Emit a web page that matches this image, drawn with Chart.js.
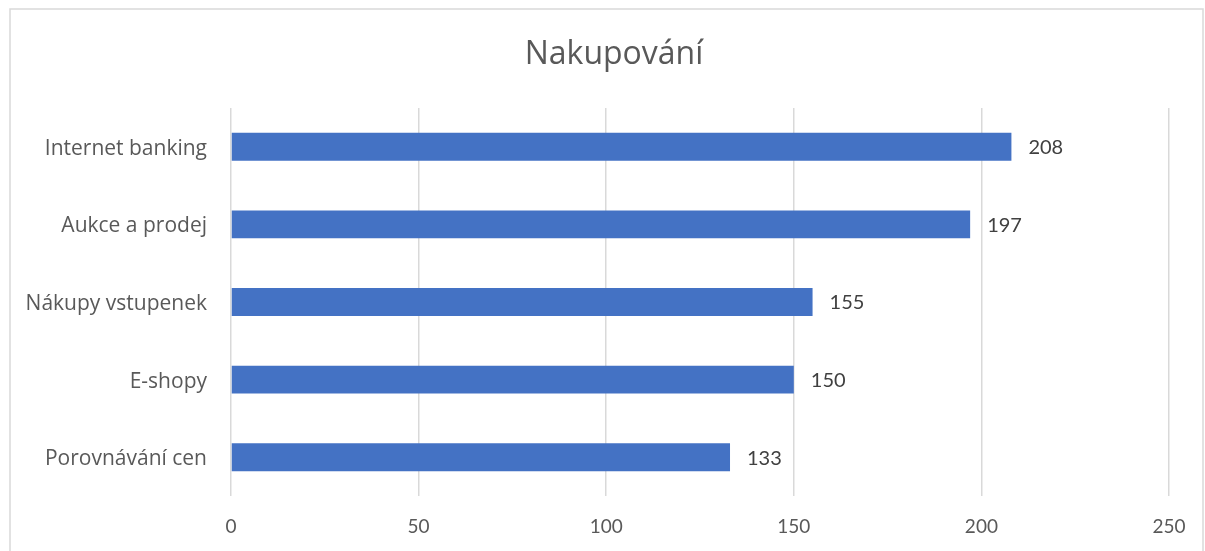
<!DOCTYPE html>
<html>
<head>
<meta charset="utf-8">
<script src="https://cdn.jsdelivr.net/npm/chart.js@4"></script>
<style>
  html, body { margin: 0; padding: 0; background: #fff; }
  #wrap { width: 1205px; height: 551px; position: relative; }
</style>
</head>
<body>
<div id="wrap"><canvas id="chart" width="1205" height="551"></canvas></div>
<script>
const categories = ['Internet banking', 'Aukce a prodej', 'Nákupy vstupenek', 'E-shopy', 'Porovnávání cen'];
const values = [208, 197, 155, 150, 133];
const axisMin = 0;
const axisMax = 250;
const axisStep = 50;
const chartTitle = 'Nakupování';

const fontFamily = 'Lato, "Liberation Sans", sans-serif';
const labelFamily = '"Open Sans", "Noto Sans", sans-serif';

// frame round the whole chart and the title, which sits centred on the frame
const framePlugin = {
  id: 'frame',
  beforeDraw(chart) {
    const ctx = chart.ctx;
    ctx.save();
    ctx.fillStyle = '#ffffff';
    ctx.fillRect(0, 0, chart.width, chart.height);
    ctx.strokeStyle = '#d9d9d9';
    ctx.lineWidth = 1.5;
    ctx.strokeRect(10, 9, 1193, 600);
    ctx.font = '32px ' + labelFamily;
    ctx.fillStyle = '#595959';
    ctx.textAlign = 'center';
    ctx.textBaseline = 'middle';
    ctx.fillText(chartTitle, 614, 55);
    ctx.restore();
  }
};

// value next to the end of each bar
const valueLabels = {
  id: 'valueLabels',
  afterDatasetsDraw(chart) {
    const ctx = chart.ctx;
    const meta = chart.getDatasetMeta(0);
    ctx.save();
    ctx.font = '20px ' + fontFamily;
    ctx.fillStyle = '#404040';
    ctx.textAlign = 'left';
    ctx.textBaseline = 'middle';
    meta.data.forEach((bar, i) => {
      ctx.fillText(String(values[i]), bar.x + 17, bar.y + 1);
    });
    ctx.restore();
  }
};

new Chart(document.getElementById('chart'), {
  type: 'bar',
  data: {
    labels: categories,
    datasets: [{
      data: values,
      backgroundColor: '#4472c4',
      borderWidth: 0,
      categoryPercentage: 1,
      barPercentage: 0.36
    }]
  },
  options: {
    indexAxis: 'y',
    responsive: false,
    animation: false,
    layout: { padding: { left: 0, right: 36, top: 108, bottom: 0 } },
    plugins: {
      legend: { display: false },
      tooltip: { enabled: false },
      title: { display: false }
    },
    scales: {
      x: {
        min: axisMin,
        max: axisMax,
        ticks: {
          stepSize: axisStep,
          color: '#595959',
          font: { family: fontFamily, size: 19 },
          padding: 19
        },
        grid: { color: '#d9d9d9', lineWidth: 1.5, drawTicks: false },
        border: { display: false },
        afterFit(scale) { scale.height = 55; }
      },
      y: {
        ticks: {
          color: '#595959',
          font: { family: labelFamily, size: 21 },
          padding: 24,
          labelOffset: 2
        },
        grid: { display: false, drawTicks: false },
        border: { display: false },
        afterFit(scale) { scale.width = 231; }
      }
    }
  },
  plugins: [framePlugin, valueLabels]
});
</script>
</body>
</html>
